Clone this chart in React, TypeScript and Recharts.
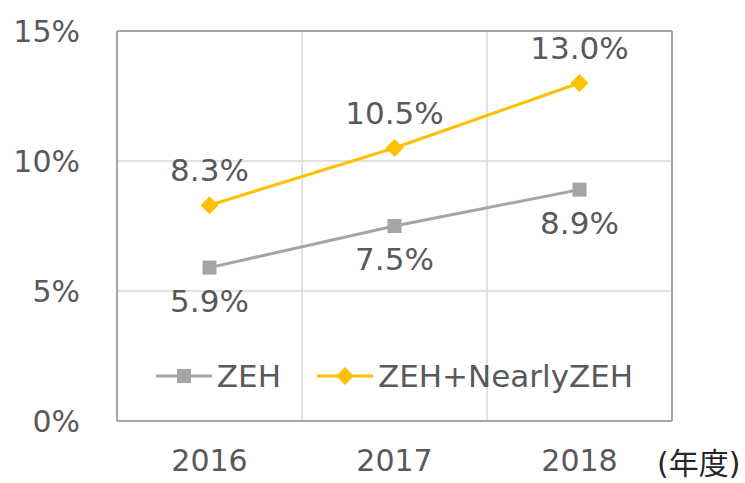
import { LineChart, Line, XAxis, YAxis, CartesianGrid, Legend, LabelList } from 'recharts';

const years = ['2016', '2017', '2018'];
const zeh = [5.9, 7.5, 8.9];
const zehNearly = [8.3, 10.5, 13.0];
const yTicks = [0, 5, 10, 15];

const data = years.map((year, i) => ({ year, zeh: zeh[i], zehNearly: zehNearly[i] }));

const FONT = '"DejaVu Sans", "Noto Sans CJK JP", sans-serif';
const TEXT = '#595959';
const GRAY = '#a5a5a5';
const ORANGE = '#ffc000';
const FRAME = '#a6a6a6';

const SquareDot = (props: any) => {
  const { cx, cy } = props;
  if (cx == null || cy == null) return null;
  return <rect x={cx - 7} y={cy - 7} width={14} height={14} fill={GRAY} />;
};

const DiamondDot = (props: any) => {
  const { cx, cy } = props;
  if (cx == null || cy == null) return null;
  const r = 9;
  return <path d={`M${cx},${cy - r}L${cx + r},${cy}L${cx},${cy + r}L${cx - r},${cy}Z`} fill={ORANGE} />;
};

const LegendContent = (props: any) => {
  const { payload } = props;
  return (
    <div style={{ display: 'flex', justifyContent: 'center', gap: 36, fontFamily: FONT, fontSize: 31, color: TEXT }}>
      {(payload || []).map((entry: any) => (
        <div key={entry.value} style={{ display: 'flex', alignItems: 'center' }}>
          <svg width={56} height={20} style={{ marginRight: 5 }}>
            <line x1={0} y1={10} x2={56} y2={10} stroke={entry.color} strokeWidth={3} />
            {entry.dataKey === 'zeh' ? (
              <rect x={21} y={3} width={14} height={14} fill={entry.color} />
            ) : (
              <path d="M28,1L37,10L28,19L19,10Z" fill={entry.color} />
            )}
          </svg>
          <span>{entry.value}</span>
        </div>
      ))}
    </div>
  );
};

export default function App() {
  return (
    <div style={{ position: 'absolute', left: 0, top: 0, background: '#fff' }}>
      <LineChart
        width={745}
        height={483}
        data={data}
        margin={{ top: 31, right: 73, left: 0, bottom: 0 }}
        style={{ fontFamily: FONT }}
      >
        <CartesianGrid
          stroke="#d9d9d9"
          strokeWidth={1.5}
          verticalCoordinatesGenerator={({ offset }: any) => [
            offset.left + offset.width / 3,
            offset.left + (2 * offset.width) / 3,
          ]}
        />
        <CartesianGrid
          stroke={FRAME}
          strokeWidth={2}
          horizontalCoordinatesGenerator={({ offset }: any) => [offset.top, offset.top + offset.height]}
          verticalCoordinatesGenerator={({ offset }: any) => [offset.left, offset.left + offset.width]}
        />
        <XAxis
          dataKey="year"
          scale="band"
          height={62}
          tickLine={false}
          tickSize={0}
          tickMargin={29}
          axisLine={false}
          tick={{ fill: TEXT, fontSize: 30 }}
          label={{ value: '(年度)', position: 'right', offset: -15, dy: 11, fill: '#262626', fontSize: 30 }}
        />
        <YAxis
          width={117}
          domain={[0, 15]}
          ticks={yTicks}
          tickFormatter={(v: number) => `${v}%`}
          tickLine={false}
          tickSize={0}
          tickMargin={37}
          axisLine={false}
          tick={{ fill: TEXT, fontSize: 30 }}
        />
        <Legend
          layout="horizontal"
          verticalAlign="middle"
          align="center"
          content={<LegendContent />}
          wrapperStyle={{ top: 358, left: 117, width: 555 }}
        />
        <Line
          dataKey="zeh"
          name="ZEH"
          stroke={GRAY}
          strokeWidth={3}
          dot={<SquareDot />}
          activeDot={false}
          isAnimationActive={false}
        >
          <LabelList
            dataKey="zeh"
            position="bottom"
            offset={22}
            formatter={(v: number) => `${v.toFixed(1)}%`}
            style={{ fill: TEXT, fontSize: 31 }}
          />
        </Line>
        <Line
          dataKey="zehNearly"
          name="ZEH+NearlyZEH"
          stroke={ORANGE}
          strokeWidth={3}
          dot={<DiamondDot />}
          activeDot={false}
          isAnimationActive={false}
        >
          <LabelList
            dataKey="zehNearly"
            position="top"
            offset={24}
            formatter={(v: number) => `${v.toFixed(1)}%`}
            style={{ fill: TEXT, fontSize: 31 }}
          />
        </Line>
      </LineChart>
    </div>
  );
}
